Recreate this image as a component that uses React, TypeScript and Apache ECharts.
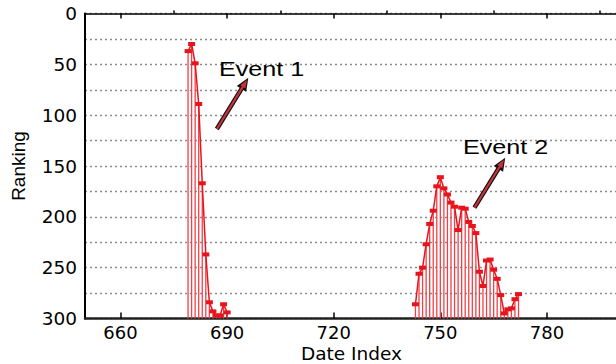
import React, { useEffect, useRef } from "react";
import * as echarts from "echarts";

// ---- Data ----
const event1Dates = [679, 680, 681, 682, 683, 684, 685, 686, 687, 688, 689, 690];
const event1Ranks = [37, 30, 49, 89, 167, 237, 284, 293, 297, 297, 286, 294];

const event2Dates = [
  743, 744, 745, 746, 747, 748, 749, 750, 751, 752, 753, 754, 755, 756, 757,
  758, 759, 760, 761, 762, 763, 764, 765, 766, 767, 768, 769, 770, 771, 772,
];
const event2Ranks = [
  286, 256, 250, 227, 207, 194, 170, 161, 172, 178, 186, 190, 213, 191, 192,
  205, 209, 216, 254, 268, 243, 242, 252, 261, 277, 295, 291, 290, 281, 276,
];

const xMajorTicks = [660, 690, 720, 750, 780];
const xMinorTicks = [675, 705, 735, 765, 795];

// annotation arrows (data coordinates: [date, rank])
const arrow1From = [687.1, 113.6];
const arrow1To = [695.0, 68.7];
const arrow2From = [759.6, 191.0];
const arrow2To = [767.3, 147.3];

const X_MIN = 650;
const X_MAX = 800;
const Y_MIN = 0;
const Y_MAX = 300;

const RED = "#e8141c";
const DROP = "#f04048";
const FONT = "DejaVu Sans";

function zip(xs: number[], ys: number[]) {
  return xs.map((x, i) => [x, ys[i]]);
}

function arrowMarkLine(from: number[], to: number[]) {
  return {
    silent: true,
    animation: false,
    label: { show: false },
    emphasis: { disabled: true },
    data: [
      [
        { coord: from, symbol: "none", lineStyle: { color: "#111", width: 4.5, type: "solid" } },
        { coord: to, symbol: "triangle", symbolSize: [11, 13] },
      ],
      [
        { coord: from, symbol: "none", lineStyle: { color: "#c8323c", width: 2.2, type: "solid" } },
        { coord: to, symbol: "triangle", symbolSize: [6, 8] },
      ],
    ],
  };
}

const dropRender = (params: any, api: any) => {
  const p = api.coord([api.value(0), api.value(1)]);
  const b = api.coord([api.value(0), Y_MAX]);
  return {
    type: "line",
    shape: { x1: p[0], y1: p[1], x2: b[0], y2: b[1] },
    style: { stroke: DROP, lineWidth: 1.3 },
  };
};

export default function App() {
  const ref = useRef<HTMLDivElement>(null);

  useEffect(() => {
    document.body.style.margin = "0";
    if (!ref.current) return;
    const chart = echarts.init(ref.current, undefined, { renderer: "svg" });
    const gridPos = {
      left: 85,
      width: 533,
      top: 13.5,
      height: 305,
      containLabel: false,
      outerBoundsMode: "none",
    };
    const option: any = {
      animation: false,
      backgroundColor: "#ffffff",
      grid: [gridPos, { ...gridPos }],
      xAxis: [
        {
          type: "value",
          gridIndex: 0,
          position: "bottom",
          min: X_MIN,
          max: X_MAX,
          name: "Date Index",
          nameLocation: "middle",
          nameGap: 25,
          nameMoveOverlap: false,
          nameTextStyle: { fontFamily: FONT, fontSize: 18.5, color: "#000" },
          axisLine: { show: true, onZero: false, lineStyle: { color: "#222", width: 2.5 } },
          axisTick: { show: true, inside: true, length: 6, customValues: xMajorTicks, lineStyle: { color: "#000", width: 1.5 } },
          axisLabel: { show: true, customValues: xMajorTicks, fontFamily: FONT, fontSize: 18, color: "#000", margin: 5 },
          splitLine: { show: false },
        },
        {
          type: "value",
          gridIndex: 0,
          position: "top",
          min: X_MIN,
          max: X_MAX,
          axisLine: { show: true, onZero: false, lineStyle: { color: "#000", width: 1.5 } },
          axisTick: { show: true, inside: true, length: 5, customValues: xMajorTicks, lineStyle: { color: "#000", width: 1.5 } },
          axisLabel: { show: false },
          splitLine: { show: false },
        },
        {
          type: "value",
          gridIndex: 1,
          position: "bottom",
          min: X_MIN,
          max: X_MAX,
          axisLine: { show: false },
          axisTick: { show: true, inside: true, length: 3, customValues: xMinorTicks, lineStyle: { color: "#000", width: 1.5 } },
          axisLabel: { show: false },
          splitLine: { show: false },
        },
      ],
      yAxis: [
        {
          type: "value",
          gridIndex: 0,
          inverse: true,
          min: Y_MIN,
          max: Y_MAX,
          interval: 25,
          name: "Ranking",
          nameLocation: "middle",
          nameGap: 57,
          nameMoveOverlap: false,
          nameTextStyle: { fontFamily: "Liberation Sans", fontSize: 19, color: "#000" },
          axisLine: { show: true, onZero: false, lineStyle: { color: "#000", width: 2 } },
          axisTick: { show: false },
          axisLabel: {
            fontFamily: FONT,
            fontSize: 18.5,
            color: "#000",
            margin: 8,
            formatter: (v: number) => (v % 50 === 0 ? String(v) : ""),
          },
          splitLine: { show: true, lineStyle: { type: [2, 3], color: "#8a8a8a", width: 1.4 } },
        },
        {
          type: "value",
          gridIndex: 1,
          inverse: true,
          min: Y_MIN,
          max: Y_MAX,
          show: false,
        },
      ],
      graphic: [
        {
          type: "text",
          x: 219,
          y: 70,
          scaleX: 1.29,
          style: { text: "Event 1", fontFamily: "Liberation Sans", fontSize: 19.5, fill: "#000", verticalAlign: "middle", align: "left" },
          z: 100,
        },
        {
          type: "text",
          x: 463,
          y: 148,
          scaleX: 1.29,
          style: { text: "Event 2", fontFamily: "Liberation Sans", fontSize: 19.5, fill: "#000", verticalAlign: "middle", align: "left" },
          z: 100,
        },
      ],
      series: [
        {
          type: "custom",
          name: "drop1",
          xAxisIndex: 0,
          yAxisIndex: 0,
          renderItem: dropRender,
          data: zip(event1Dates, event1Ranks),
          z: 2,
          silent: true,
        },
        {
          type: "custom",
          name: "drop2",
          xAxisIndex: 0,
          yAxisIndex: 0,
          renderItem: dropRender,
          data: zip(event2Dates, event2Ranks),
          z: 2,
          silent: true,
        },
        {
          type: "line",
          name: "Event 1",
          xAxisIndex: 0,
          yAxisIndex: 0,
          data: zip(event1Dates, event1Ranks),
          symbol: "rect",
          symbolSize: [7, 4],
          showAllSymbol: true,
          lineStyle: { color: RED, width: 1.5 },
          itemStyle: { color: RED },
          z: 3,
          markLine: arrowMarkLine(arrow1From, arrow1To),
        },
        {
          type: "line",
          name: "Event 2",
          xAxisIndex: 0,
          yAxisIndex: 0,
          data: zip(event2Dates, event2Ranks),
          symbol: "rect",
          symbolSize: [7, 4],
          showAllSymbol: true,
          lineStyle: { color: RED, width: 1.5 },
          itemStyle: { color: RED },
          z: 3,
          markLine: arrowMarkLine(arrow2From, arrow2To),
        },
      ],
    };
    chart.setOption(option);
    return () => chart.dispose();
  }, []);

  return (
    <div
      ref={ref}
      style={{ position: "fixed", left: 0, top: 0, width: 616, height: 364, background: "#fff" }}
    />
  );
}
